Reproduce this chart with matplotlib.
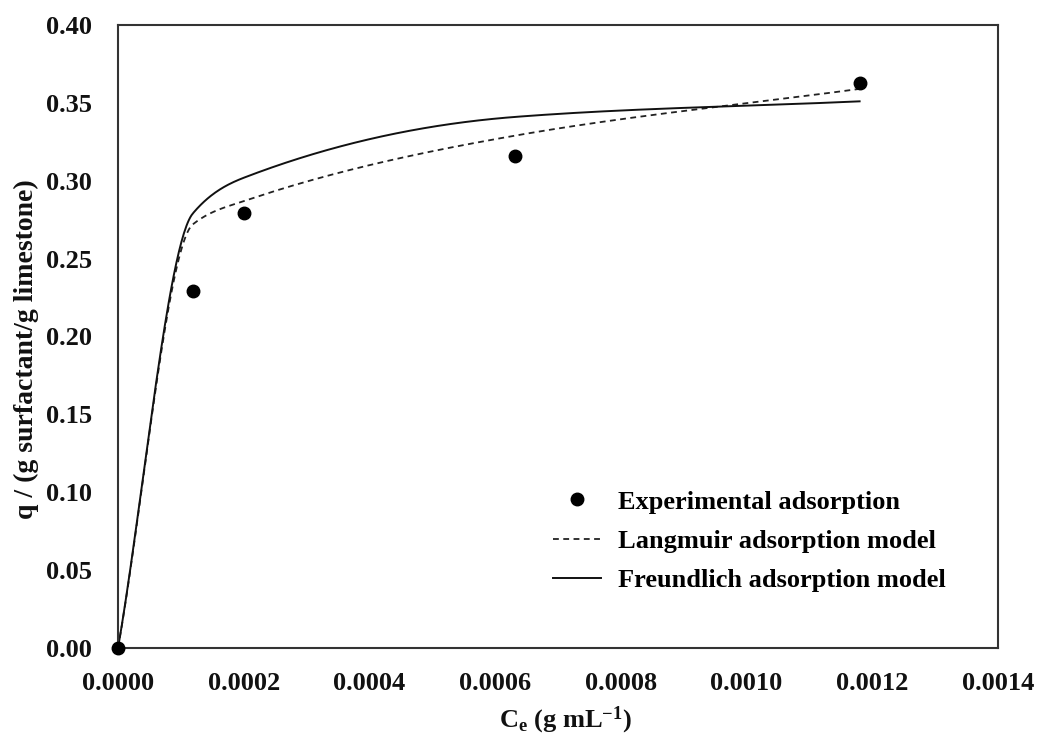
import numpy as np
import matplotlib
matplotlib.use('Agg')
import matplotlib.pyplot as plt

plt.rcParams['font.family'] = ['Liberation Serif', 'DejaVu Serif']
plt.rcParams['font.weight'] = 'bold'
plt.rcParams['mathtext.fontset'] = 'custom'
plt.rcParams['mathtext.rm'] = 'Liberation Serif:bold'
plt.rcParams['mathtext.bf'] = 'Liberation Serif:bold'
plt.rcParams['mathtext.it'] = 'Liberation Serif:bold'
plt.rcParams['lines.scale_dashes'] = False

# experimental data
ce = [0.0, 0.000119, 0.0002005, 0.000632, 0.00118]
q_exp = [0.0, 0.229, 0.279, 0.316, 0.363]
# model values at the same concentrations
q_langmuir = [0.0, 0.272, 0.287, 0.329, 0.359]
q_freundlich = [0.0, 0.279, 0.302, 0.341, 0.351]


def smooth(xs, ys, n=60):
    # monotone cubic (fritsch-carlson) through the model points
    x = np.asarray(xs, float)
    y = np.asarray(ys, float)
    h = np.diff(x)
    d = np.diff(y) / h
    m = np.zeros_like(y)
    m[0], m[-1] = d[0], d[-1]
    for i in range(1, len(x) - 1):
        if d[i - 1] * d[i] > 0:
            w1 = 2 * h[i] + h[i - 1]
            w2 = h[i] + 2 * h[i - 1]
            m[i] = (w1 + w2) / (w1 / d[i - 1] + w2 / d[i])
    xo, yo = [], []
    for i in range(len(x) - 1):
        t = np.linspace(0, 1, n)
        h00 = 2 * t**3 - 3 * t**2 + 1
        h10 = t**3 - 2 * t**2 + t
        h01 = -2 * t**3 + 3 * t**2
        h11 = t**3 - t**2
        xo.append(x[i] + t * h[i])
        yo.append(h00 * y[i] + h10 * h[i] * m[i] + h01 * y[i + 1] + h11 * h[i] * m[i + 1])
    return np.concatenate(xo), np.concatenate(yo)


fig = plt.figure(figsize=(10.4, 7.36), dpi=100)
ax = fig.add_axes([0.1135, 0.1196, 0.846, 0.8464])

xl, yl = smooth(ce, q_langmuir)
xf, yf = smooth(ce, q_freundlich)
ax.plot(xl, yl, color='#222222', lw=1.3, dashes=(4.2, 3.2), label='Langmuir adsorption model')
ax.plot(xf, yf, color='#111111', lw=1.4, label='Freundlich adsorption model')
ax.plot(ce, q_exp, 'o', color='black', ms=9, clip_on=False, zorder=5,
        label='Experimental adsorption')

ax.set_xlim(0, 0.0014)
ax.set_ylim(0, 0.40)
ax.set_xticks(np.arange(0, 0.00141, 0.0002))
ax.set_yticks(np.arange(0, 0.401, 0.05))
ax.xaxis.set_major_formatter(matplotlib.ticker.FormatStrFormatter('%.4f'))
ax.yaxis.set_major_formatter(matplotlib.ticker.FormatStrFormatter('%.2f'))
ax.tick_params(length=0, labelsize=19, colors='#111111')
ax.tick_params(axis='x', pad=17)
ax.tick_params(axis='y', pad=19)
for s in ax.spines.values():
    s.set_linewidth(1.5)
    s.set_color('#333333')

ax.set_xlabel(r'C$_\mathrm{e}$ (g mL$^{-1}$)', fontsize=19, fontweight='bold', color='#111111')
ax.xaxis.set_label_coords(0.508, -0.091)
ax.set_ylabel('q / (g surfactant/g limestone)', fontsize=20, fontweight='bold', color='#111111')
ax.yaxis.set_label_coords(-0.09, 0.48)

h, l = ax.get_legend_handles_labels()
order = [2, 0, 1]
leg = ax.legend([h[i] for i in order], [l[i] for i in order], frameon=False,
                fontsize=19, loc='upper left', bbox_to_anchor=(0.532, 0.334),
                bbox_transform=fig.transFigure, borderpad=0, borderaxespad=0,
                handlelength=1.8, handletextpad=0.65, labelspacing=0.6)

fig.savefig('out.png', dpi=100)
